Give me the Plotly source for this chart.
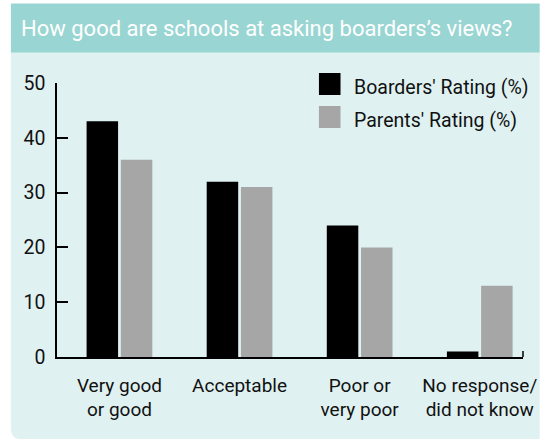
import plotly.graph_objects as go

categories = ["Very good<br>or good", "Acceptable", "Poor or<br>very poor", "No response/<br>did not know"]
boarders = [43, 32, 24, 1]
parents = [36, 31, 20, 13]
series_names = ["Boarders' Rating (%)", "Parents' Rating (%)"]
y_ticks = [0, 10, 20, 30, 40, 50]
title_text = "How good are schools at asking boarders\u2019s views?"

FONT = "Roboto, sans-serif"
TEAL = "#99D5D2"
MINT = "#E0F1F1"
BLACK = "#000000"
GREY = "#A6A6A6"

W_FIG, H_FIG = 549, 439
L, R, T, B = 57, 532, 83, 357
PW, PH = R - L, B - T


def px(x):
    return (x - L) / PW


def py(y):
    return (B - y) / PH


fig = go.Figure()
fig.add_trace(go.Bar(x=categories, y=boarders, name=series_names[0],
                     marker=dict(color=BLACK, line=dict(width=0)), showlegend=False))
fig.add_trace(go.Bar(x=categories, y=parents, name=series_names[1],
                     marker=dict(color=GREY, line=dict(width=0)), showlegend=False))

shapes = [
    dict(type="path", xref="paper", yref="paper", layer="below",
         path=(f"M {px(10)},{py(52)} L {px(549)},{py(52)} L {px(549)},{py(439)} "
               f"L {px(20)},{py(439)} Q {px(10)},{py(439)} {px(10)},{py(429)} Z"),
         fillcolor=MINT, line=dict(width=0)),
    dict(type="rect", xref="paper", yref="paper", layer="below",
         x0=px(10), x1=px(549), y0=py(52.5), y1=py(3.5),
         fillcolor=TEAL, line=dict(width=0)),
    dict(type="rect", xref="paper", yref="paper",
         x0=px(324), x1=px(346), y0=py(95), y1=py(73),
         fillcolor=BLACK, line=dict(width=0)),
    dict(type="rect", xref="paper", yref="paper",
         x0=px(324), x1=px(346), y0=py(128), y1=py(106),
         fillcolor=GREY, line=dict(width=0)),
    dict(type="line", xref="paper", yref="paper",
         x0=1, x1=1, y0=0, y1=py(351), line=dict(color=BLACK, width=1.5)),
]

annotations = [
    dict(text=title_text, xref="paper", yref="paper", x=px(18), y=py(29),
         xanchor="left", yanchor="middle", showarrow=False,
         font=dict(family=FONT, size=22, color="white")),
    dict(text=series_names[0], xref="paper", yref="paper", x=px(358), y=py(87),
         xanchor="left", yanchor="middle", showarrow=False,
         font=dict(family=FONT, size=19.5, color="#111111")),
    dict(text=series_names[1], xref="paper", yref="paper", x=px(358), y=py(120),
         xanchor="left", yanchor="middle", showarrow=False,
         font=dict(family=FONT, size=19.5, color="#111111")),
]

fig.update_layout(
    width=W_FIG, height=H_FIG,
    margin=dict(l=L, r=W_FIG - R, t=T, b=H_FIG - B, pad=0),
    paper_bgcolor="white", plot_bgcolor="rgba(0,0,0,0)",
    barmode="group", bargap=0.43, bargroupgap=0.08,
    font=dict(family=FONT, color="#111111"),
    shapes=shapes, annotations=annotations,
    xaxis=dict(type="category", range=[-0.52, 3.36], showgrid=False, zeroline=False,
               showline=True, linecolor=BLACK, linewidth=1.5, ticks="",
               tickfont=dict(family=FONT, size=19, color="#111111"),
               ticklabelstandoff=10, fixedrange=True),
    yaxis=dict(range=[0, 50], tickvals=y_ticks, showgrid=False, zeroline=False,
               showline=True, linecolor=BLACK, linewidth=1.5,
               ticks="inside", ticklen=11, tickwidth=1.5, tickcolor=BLACK,
               tickfont=dict(family=FONT, size=19.5, color="#111111"),
               ticklabelstandoff=6, fixedrange=True),
)

fig.write_html("out.html", config={"displayModeBar": False},
               post_script="document.body.style.margin='0';document.body.style.overflow='hidden';")
